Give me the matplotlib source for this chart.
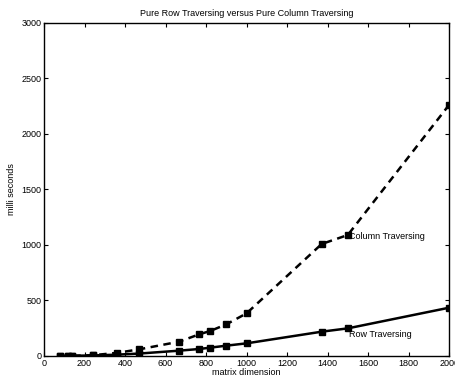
import matplotlib
matplotlib.use('Agg')
import matplotlib.pyplot as plt

plt.rcParams['font.family'] = ['Liberation Sans', 'DejaVu Sans']

# matrix sizes and timings (ms)
dims = [80, 120, 140, 240, 360, 470, 667, 766, 820, 900, 1000, 1371, 1500, 2000]
row_ms = [0, 1, 2, 5, 12, 22, 48, 63, 75, 93, 114, 219, 249, 435]
col_ms = [0, 1, 2, 7, 28, 60, 129, 195, 225, 285, 384, 1009, 1090, 2262]

fig = plt.figure(figsize=(4.55, 3.83), dpi=100)
ax = fig.add_axes([0.0967, 0.0705, 0.8903, 0.8695])

ax.plot(dims, col_ms, 'k--s', lw=1.8, ms=4.5, dashes=(3, 2.2))
ax.plot(dims, row_ms, 'k-s', lw=1.8, ms=4.5)

ax.text(1505, 1080, 'Column Traversing', fontsize=6.5, va='center')
ax.text(1505, 190, 'Row Traversing', fontsize=6.5, va='center')

ax.set_xlim(0, 2000)
ax.set_ylim(0, 3000)
ax.set_xticks(range(0, 2001, 200))
ax.set_yticks(range(0, 3001, 500))
ax.tick_params(direction='in', top=True, right=True, labelsize=6.5, length=3, width=0.8, pad=2)
for s in ax.spines.values():
    s.set_linewidth(1.0)

ax.set_title('Pure Row Traversing versus Pure Column Traversing', fontsize=6.5, pad=5)
ax.set_xlabel('matrix dimension', fontsize=6.5, labelpad=0)
ax.set_ylabel('milli seconds', fontsize=6.5, labelpad=4)

fig.savefig('out.png', dpi=100)
